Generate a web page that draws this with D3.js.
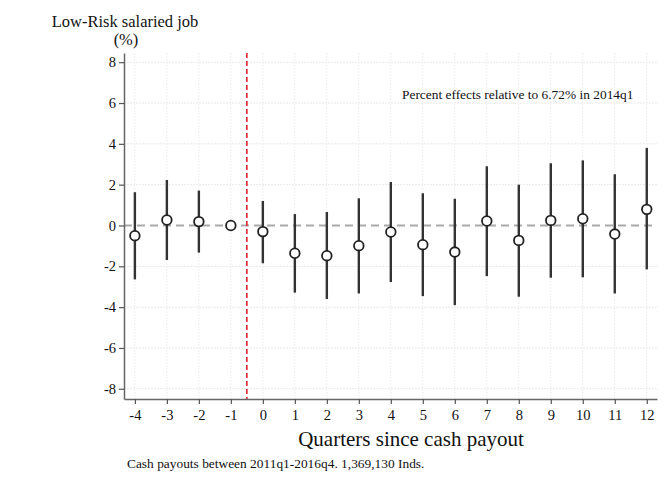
<!DOCTYPE html>
<html>
<head>
<meta charset="utf-8">
<script src="https://cdn.jsdelivr.net/npm/d3@7"></script>
<style>
  body { margin: 0; background: #fff; }
  text { font-family: "Liberation Serif", "Times New Roman", serif; fill: #111; }
</style>
</head>
<body>
<svg id="chart" width="667" height="483"></svg>
<script>
// quarters relative to payout, point estimate and 95% CI
var quarters = [-4, -3, -2, -1, 0, 1, 2, 3, 4, 5, 6, 7, 8, 9, 10, 11, 12];
var estimates = [-0.50, 0.27, 0.19, 0, -0.30, -1.36, -1.48, -0.99, -0.32, -0.94, -1.30, 0.22, -0.73, 0.25, 0.33, -0.42, 0.79];
var ci_low = [-2.64, -1.69, -1.33, 0, -1.85, -3.29, -3.60, -3.33, -2.77, -3.46, -3.90, -2.48, -3.49, -2.56, -2.54, -3.33, -2.15];
var ci_high = [1.63, 2.23, 1.71, 0, 1.20, 0.56, 0.66, 1.33, 2.13, 1.58, 1.31, 2.90, 2.00, 3.05, 3.19, 2.51, 3.80];
var y_ticks = [-8, -6, -4, -2, 0, 2, 4, 6, 8];
var event_line = -0.5;

var svg = d3.select('#chart');

let plot_left = 124, plot_right = 657, plot_top = 53, plot_bottom = 399;

let x = d3.scaleLinear().domain([-4.34, 12.32]).range([plot_left, plot_right]);
let y = d3.scaleLinear().domain([-8.5, 8.45]).range([plot_bottom, plot_top]);

// faint grid
svg.append('g').selectAll('line')
  .data(y_ticks.filter(d => d !== 0))
  .enter().append('line')
    .attr('x1', plot_left).attr('x2', plot_right)
    .attr('y1', d => y(d)).attr('y2', d => y(d))
    .attr('stroke', '#e8e8e8').attr('stroke-width', 1)
    .attr('stroke-dasharray', '2,1');

svg.append('g').selectAll('line')
  .data(quarters)
  .enter().append('line')
    .attr('x1', d => x(d)).attr('x2', d => x(d))
    .attr('y1', plot_top).attr('y2', plot_bottom)
    .attr('stroke', '#eeeeee').attr('stroke-width', 1)
    .attr('stroke-dasharray', '2,1');

// zero reference line
svg.append('line')
  .attr('x1', plot_left).attr('x2', plot_right)
  .attr('y1', y(0)).attr('y2', y(0))
  .attr('stroke', '#aaaaaa').attr('stroke-width', 2)
  .attr('stroke-dasharray', '8,5');

// payout line
svg.append('line')
  .attr('x1', x(event_line)).attr('x2', x(event_line))
  .attr('y1', plot_top).attr('y2', plot_bottom)
  .attr('stroke', '#e0262b').attr('stroke-width', 1.6)
  .attr('stroke-dasharray', '5,3');

// axes
let fmt = d => String(d);

let xAxis = svg.append('g')
  .attr('transform', 'translate(0,' + plot_bottom + ')')
  .call(d3.axisBottom(x).tickValues(quarters).tickSizeInner(5).tickSizeOuter(0).tickPadding(6).tickFormat(fmt));

let yAxis = svg.append('g')
  .attr('transform', 'translate(' + plot_left + ',0)')
  .call(d3.axisLeft(y).tickValues(y_ticks).tickSizeInner(5).tickSizeOuter(0).tickPadding(3).tickFormat(fmt));

[xAxis, yAxis].forEach(function(a) {
  a.select('.domain').attr('stroke', '#666').attr('stroke-width', 1.5);
  a.selectAll('.tick line').attr('stroke', '#555').attr('stroke-width', 1.2);
  a.selectAll('.tick text')
    .style('font-family', '"Liberation Serif", serif')
    .style('font-size', '14.5px')
    .attr('fill', '#111');
});

let data = quarters.map((q, i) => ({ q: q, est: estimates[i], lo: ci_low[i], hi: ci_high[i] }));

// confidence bars
svg.append('g').selectAll('line')
  .data(data.filter(d => d.hi !== d.lo))
  .enter().append('line')
    .attr('x1', d => x(d.q)).attr('x2', d => x(d.q))
    .attr('y1', d => y(d.lo)).attr('y2', d => y(d.hi))
    .attr('stroke', '#333').attr('stroke-width', 2.4);

// point estimates
svg.append('g').selectAll('circle')
  .data(data)
  .enter().append('circle')
    .attr('cx', d => x(d.q)).attr('cy', d => y(d.est))
    .attr('r', 4.8)
    .attr('fill', '#fff').attr('stroke', '#222').attr('stroke-width', 1.8);

// texts
svg.append('text').attr('x', 125).attr('y', 27)
  .attr('text-anchor', 'middle').style('font-size', '16.5px')
  .text('Low-Risk salaried job');
svg.append('text').attr('x', 126).attr('y', 45)
  .attr('text-anchor', 'middle').style('font-size', '16.5px')
  .text('(%)');

svg.append('text').attr('x', 402).attr('y', 99)
  .style('font-size', '13.4px')
  .text('Percent effects relative to 6.72% in 2014q1');

svg.append('text').attr('x', 411).attr('y', 446)
  .attr('text-anchor', 'middle').style('font-size', '21px')
  .text('Quarters since cash payout');

svg.append('text').attr('x', 127).attr('y', 468)
  .style('font-size', '13.4px')
  .text('Cash payouts between 2011q1-2016q4. 1,369,130 Inds.');
</script>
</body>
</html>
